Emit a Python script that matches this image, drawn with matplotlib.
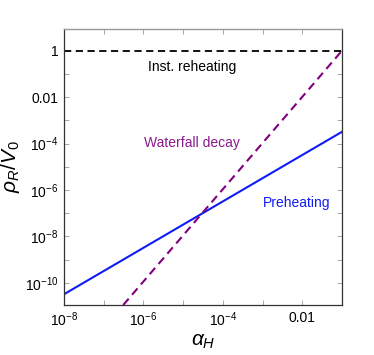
import numpy as np
import matplotlib
matplotlib.use("Agg")
import matplotlib.pyplot as plt
from matplotlib.ticker import FixedLocator, FixedFormatter, NullLocator

plt.rcParams['font.family'] = ['Liberation Sans', 'DejaVu Sans']
plt.rcParams['mathtext.fontset'] = 'custom'
plt.rcParams['mathtext.rm'] = 'Liberation Sans'
plt.rcParams['mathtext.it'] = 'Liberation Sans:italic'

# data
alpha = np.array([1e-8, 1e-1])
preheating = np.array([3.2e-11, 3.2e-4])          # slope ~1
waterfall_alpha = np.array([3.1e-7, 1e-1])
waterfall = np.array([1.1e-11, 1.0])              # slope ~2
inst_alpha = np.array([1e-8, 1e-1])
inst = np.array([1.0, 1.0])

xticks = [1e-8, 1e-7, 1e-6, 1e-5, 1e-4, 1e-3, 1e-2, 1e-1]
xlabels = [r'$10^{-8}$', '', r'$10^{-6}$', '', r'$10^{-4}$', '', '0.01', '']
yticks = [10.0**k for k in range(-11, 1)]
ylabels = ['', r'$10^{-10}$', '', r'$10^{-8}$', '', r'$10^{-6}$', '', r'$10^{-4}$', '', '0.01', '', '1']

fig = plt.figure(figsize=(3.74, 3.55), dpi=100)
ax = fig.add_axes([64/374, 1-305/355, (342-64)/374, (305-29)/355])
ax.set_xscale('log'); ax.set_yscale('log')
ax.set_xlim(1e-8, 1e-1)
ax.set_ylim(1.1e-11, 8.6)

ax.plot(alpha, preheating, color='#0f1cf5', lw=1.5)
ax.plot(waterfall_alpha, waterfall, color='#800080', lw=1.5, ls=(0, (4, 2.5)))
ax.plot(inst_alpha, inst, color='black', lw=1.3, ls=(0, (4, 2.5)))

ax.text(1.7e-5, 0.2, 'Inst. reheating', color='black', fontsize=10, ha='center', va='center')
ax.text(1.7e-5, 1.1e-4, 'Waterfall decay', color='#8b1a8b', fontsize=10, ha='center', va='center')
ax.text(7e-3, 2.8e-7, 'Preheating', color='#0f1cf5', fontsize=10, ha='center', va='center')

ax.xaxis.set_major_locator(FixedLocator(xticks))
ax.xaxis.set_major_formatter(FixedFormatter(xlabels))
ax.yaxis.set_major_locator(FixedLocator(yticks))
ax.yaxis.set_major_formatter(FixedFormatter(ylabels))
ax.xaxis.set_minor_locator(NullLocator())
ax.yaxis.set_minor_locator(NullLocator())
ax.tick_params(which='both', direction='in', top=True, right=True, length=3.5, width=0.6,
               color='#999999', labelsize=10, pad=4)

for s in ['left', 'bottom', 'right']:
    ax.spines[s].set_color('#333333')
    ax.spines[s].set_linewidth(0.9)
ax.spines['top'].set_color('#999999')
ax.spines['top'].set_linewidth(1.0)

ax.set_xlabel(r'$\alpha_H$', fontsize=15, labelpad=2)
ax.set_ylabel(r'$\rho_R/V_0$', fontsize=15, labelpad=2)

fig.savefig('out.png', dpi=100)
